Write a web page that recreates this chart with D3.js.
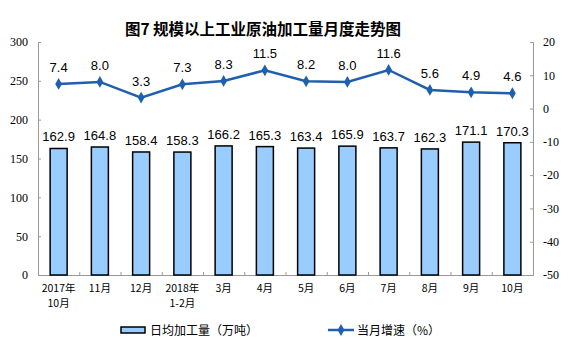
<!DOCTYPE html>
<html><head><meta charset="utf-8">
<script src="https://cdn.jsdelivr.net/npm/d3@7"></script>
<style>body{margin:0;background:#fff}svg{display:block}</style>
</head><body>
<script>
const categories = [["2017年","10月"],["11月"],["12月"],["2018年","1-2月"],["3月"],["4月"],["5月"],["6月"],["7月"],["8月"],["9月"],["10月"]];
const dailyOutput = [162.9,164.8,158.4,158.3,166.2,165.3,163.4,165.9,163.7,162.3,171.1,170.3];
const growth = [7.4,8.0,3.3,7.3,8.3,11.5,8.2,8.0,11.6,5.6,4.9,4.6];
const leftTicks = [0,50,100,150,200,250,300];
const rightTicks = [-50,-40,-30,-20,-10,0,10,20];
const title = "图7  规模以上工业原油加工量月度走势图";
const legendBar = "日均加工量（万吨）";
const legendLine = "当月增速（%）";

const W=574,H=355, L=38, R=533, T=42, B=275;
const svg=d3.select("body").append("svg").attr("width",W).attr("height",H);
const idx=categories.map((d,i)=>i);
const x=d3.scaleBand().domain(idx).range([L,R]).paddingInner(0).paddingOuter(0);
const yL=d3.scaleLinear().domain([0,300]).range([B,T]);
const yR=d3.scaleLinear().domain([-50,20]).range([B,T]);
const axisColor="#999";
const serif="'Liberation Serif','Times New Roman',serif";
const cjk="'Noto Sans CJK SC',sans-serif";
const sans="'Liberation Sans',Arial,sans-serif";

svg.append("text").attr("x",263).attr("y",35).attr("text-anchor","middle")
  .attr("font-family",cjk).attr("font-weight","bold").attr("font-size",15.5).attr("fill","#000").text(title);

const gL=svg.append("g").attr("transform",`translate(${L},0)`)
  .call(d3.axisLeft(yL).tickValues(leftTicks).tickSize(-3).tickPadding(10));
const gR=svg.append("g").attr("transform",`translate(${R},0)`)
  .call(d3.axisRight(yR).tickValues(rightTicks).tickSize(-3).tickPadding(10).tickFormat(d=>String(d)));
const bw=x.bandwidth();
const gB=svg.append("g").attr("transform",`translate(0,${B})`)
  .call(d3.axisBottom(d3.scaleLinear().domain([0,12]).range([L,R])).tickValues(d3.range(0,13)).tickSize(-3).tickFormat(""));
[gL,gR,gB].forEach(g=>{
  g.selectAll("path.domain").attr("stroke",axisColor);
  g.selectAll(".tick line").attr("stroke",axisColor);
  g.selectAll(".tick text").attr("font-family",serif).attr("font-size",12).attr("fill","#000");
});
gR.selectAll(".tick text").attr("x",10);

const xl=svg.append("g");
categories.forEach((lines,i)=>{
  lines.forEach((s,j)=>xl.append("text").attr("x",x(i)+bw/2).attr("y",B+17+j*15).attr("text-anchor","middle")
    .attr("font-family",cjk).attr("font-size",10.5).attr("fill","#000").text(s));
});

const barW=17;
svg.append("g").selectAll("rect").data(dailyOutput).join("rect")
  .attr("x",(d,i)=>x(i)+bw/2-barW/2).attr("width",barW)
  .attr("y",d=>yL(d)).attr("height",d=>B-yL(d))
  .attr("fill","#99CCFF").attr("stroke","#000").attr("stroke-width",1.5);
svg.append("g").selectAll("text").data(dailyOutput).join("text")
  .attr("x",(d,i)=>x(i)+bw/2).attr("y",d=>yL(d)-7).attr("text-anchor","middle")
  .attr("font-family",sans).attr("font-size",13).attr("fill","#000").text(d=>d.toFixed(1));

const lc="#1F5FB0";
const line=d3.line().x((d,i)=>x(i)+bw/2).y(d=>yR(d));
svg.append("path").datum(growth).attr("d",line).attr("fill","none").attr("stroke",lc).attr("stroke-width",2.5);
const diamond=d3.symbol().type(d3.symbolDiamond).size(40);
svg.append("g").selectAll("path").data(growth).join("path")
  .attr("d",diamond).attr("transform",(d,i)=>`translate(${x(i)+bw/2},${yR(d)})`).attr("fill",lc);
svg.append("g").selectAll("text").data(growth).join("text")
  .attr("x",(d,i)=>x(i)+bw/2).attr("y",d=>yR(d)-12).attr("text-anchor","middle")
  .attr("font-family",sans).attr("font-size",13).attr("fill","#000").text(d=>d.toFixed(1));

svg.append("rect").attr("x",121).attr("y",327).attr("width",24).attr("height",6)
  .attr("fill","#99CCFF").attr("stroke","#000").attr("stroke-width",1.5);
svg.append("text").attr("x",150).attr("y",335).attr("font-family",cjk).attr("font-size",12).attr("fill","#000").text(legendBar);
svg.append("line").attr("x1",328).attr("x2",354).attr("y1",330).attr("y2",330).attr("stroke",lc).attr("stroke-width",2.5);
svg.append("path").attr("d",diamond).attr("transform","translate(341,330)").attr("fill",lc);
svg.append("text").attr("x",357).attr("y",335).attr("font-family",cjk).attr("font-size",12).attr("fill","#000").text(legendLine);
</script>
</body></html>
